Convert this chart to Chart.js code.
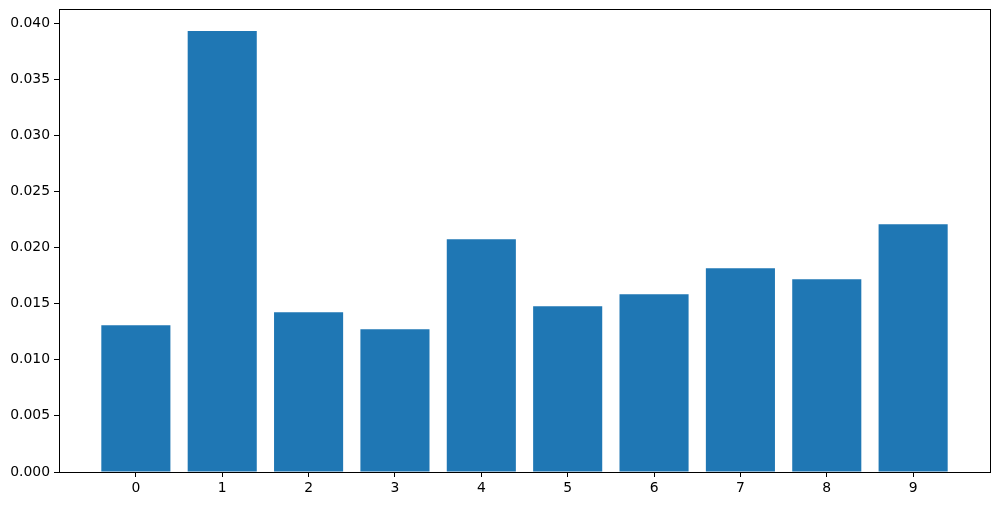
<!DOCTYPE html>
<html>
<head>
    <title>Bar chart</title>
    <script src="https://cdn.jsdelivr.net/npm/chart.js"></script>
    <style>
        html, body { margin: 0; padding: 0; background: #fff; }
        #wrap { width: 999px; height: 505px; }
    </style>
</head>
<body>
    <div id="wrap"><canvas id="barChart" width="999" height="505"></canvas></div>
    <script>
        const categories = ['0', '1', '2', '3', '4', '5', '6', '7', '8', '9'];
        const values = [0.01307, 0.03929, 0.01423, 0.01271, 0.02074, 0.01476, 0.01583, 0.01815, 0.01717, 0.02207];
        const yTicks = [0, 0.005, 0.010, 0.015, 0.020, 0.025, 0.030, 0.035, 0.040];

        const font = { family: 'DejaVu Sans', size: 13.9 };

        // draw the box around the plot area like matplotlib spines
        const frame = {
            id: 'frame',
            afterDraw(chart) {
                const a = chart.chartArea;
                const ctx = chart.ctx;
                ctx.save();
                ctx.strokeStyle = '#000';
                ctx.lineWidth = 1;
                ctx.strokeRect(Math.round(a.left) + 0.5, Math.round(a.top) + 0.5,
                    Math.round(a.right - a.left), Math.round(a.bottom - a.top));
                ctx.restore();
            }
        };

        const ctx = document.getElementById('barChart').getContext('2d');
        new Chart(ctx, {
            type: 'bar',
            data: {
                datasets: [{
                    data: values.map((v, i) => ({ x: i, y: v })),
                    backgroundColor: '#1f77b4',
                    borderWidth: 0,
                    barPercentage: 0.8,
                    categoryPercentage: 1.0
                }]
            },
            options: {
                responsive: false,
                animation: false,
                layout: { padding: { top: 9, right: 9, left: 0, bottom: 0 } },
                plugins: { legend: { display: false }, tooltip: { enabled: false } },
                scales: {
                    x: {
                        type: 'linear',
                        min: -0.89,
                        max: 9.89,
                        offset: false,
                        afterBuildTicks: s => { s.ticks = categories.map((c, i) => ({ value: i })); },
                        afterFit: s => { s.height = 33; s.paddingLeft = 0; s.paddingRight = 0; },
                        grid: { offset: false, drawOnChartArea: false, drawTicks: true, tickLength: 5, color: '#000' },
                        border: { display: false },
                        ticks: {
                            color: '#000', font: font, padding: 3, maxRotation: 0,
                            callback: (v) => categories[v]
                        }
                    },
                    y: {
                        min: 0,
                        max: 0.04125,
                        afterBuildTicks: s => { s.ticks = yTicks.map(v => ({ value: v })); },
                        afterFit: s => { s.width = 59; s.paddingTop = 0; s.paddingBottom = 0; },
                        grid: { drawOnChartArea: false, drawTicks: true, tickLength: 5, color: '#000' },
                        border: { display: false },
                        ticks: {
                            color: '#000', font: font, padding: 4,
                            callback: (v) => v.toFixed(3)
                        }
                    }
                }
            },
            plugins: [frame]
        });
    </script>
</body>
</html>
